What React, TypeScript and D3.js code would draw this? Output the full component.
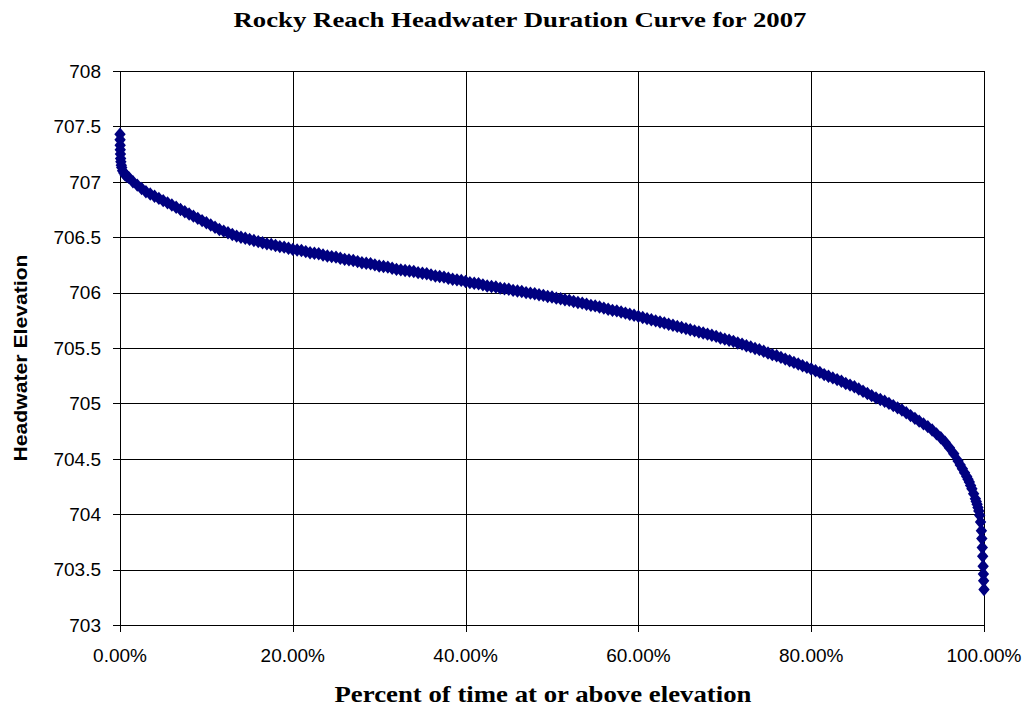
import React from "react";
import * as d3 from "d3";

const titleText = "Rocky Reach Headwater Duration Curve for 2007";
const xTitle = "Percent of time at or above elevation";
const yTitle = "Headwater Elevation";

const xTicks = [0, 20, 40, 60, 80, 100];
const yTicks = [703, 703.5, 704, 704.5, 705, 705.5, 706, 706.5, 707, 707.5, 708];

// Percent of time (0-100) at or above elevation
const percent = [
  0, 0.01, 0.02, 0.03, 0.05, 0.07, 0.1, 0.15, 0.2, 0.3, 0.45, 0.6, 0.8,
  1, 1.5, 2, 2.5, 3, 3.5, 4, 4.5, 5, 5.5, 6, 6.5, 7, 7.5, 8, 8.5, 9, 9.5,
  10, 10.5, 11, 11.5, 12, 12.5, 13, 13.5, 14, 14.5, 15, 15.5, 16, 16.5, 17, 17.5, 18, 18.5, 19, 19.5,
  20, 20.5, 21, 21.5, 22, 22.5, 23, 23.5, 24, 24.5, 25, 25.5, 26, 26.5, 27, 27.5, 28, 28.5, 29, 29.5,
  30, 30.5, 31, 31.5, 32, 32.5, 33, 33.5, 34, 34.5, 35, 35.5, 36, 36.5, 37, 37.5, 38, 38.5, 39, 39.5,
  40, 40.5, 41, 41.5, 42, 42.5, 43, 43.5, 44, 44.5, 45, 45.5, 46, 46.5, 47, 47.5, 48, 48.5, 49, 49.5,
  50, 50.5, 51, 51.5, 52, 52.5, 53, 53.5, 54, 54.5, 55, 55.5, 56, 56.5, 57, 57.5, 58, 58.5, 59, 59.5,
  60, 60.5, 61, 61.5, 62, 62.5, 63, 63.5, 64, 64.5, 65, 65.5, 66, 66.5, 67, 67.5, 68, 68.5, 69, 69.5,
  70, 70.5, 71, 71.5, 72, 72.5, 73, 73.5, 74, 74.5, 75, 75.5, 76, 76.5, 77, 77.5, 78, 78.5, 79, 79.5,
  80, 80.5, 81, 81.5, 82, 82.5, 83, 83.5, 84, 84.5, 85, 85.5, 86, 86.5, 87, 87.5, 88, 88.5, 89, 89.5,
  90, 90.5, 91, 91.5, 92, 92.5, 93, 93.5, 94, 94.5, 95, 95.5, 96, 96.5, 97, 97.25, 97.5, 97.75, 98, 98.15, 98.3, 98.45, 98.6, 98.8,
  99, 99.1, 99.2, 99.3, 99.4, 99.5, 99.6, 99.7, 99.75, 99.8, 99.85, 99.9, 99.93, 99.96, 100,
];
const elevation = [
  707.43, 707.38, 707.33, 707.29, 707.25, 707.21, 707.18, 707.15, 707.13, 707.1, 707.08, 707.06, 707.05,
  707.04, 707.0, 706.97, 706.94, 706.91, 706.89, 706.87, 706.85, 706.83, 706.81, 706.79, 706.77, 706.75, 706.73, 706.71, 706.69, 706.67, 706.65,
  706.63, 706.61, 706.59, 706.57, 706.555, 706.54, 706.525, 706.51, 706.5, 706.49, 706.48, 706.47, 706.46, 706.45, 706.44, 706.435, 706.425, 706.415, 706.41, 706.4,
  706.39, 706.385, 706.38, 706.37, 706.36, 706.355, 706.35, 706.34, 706.33, 706.325, 706.32, 706.31, 706.3, 706.295, 706.29, 706.28, 706.27, 706.265, 706.26, 706.25,
  706.24, 706.235, 706.23, 706.22, 706.21, 706.205, 706.2, 706.195, 706.19, 706.18, 706.175, 706.17, 706.16, 706.15, 706.145, 706.14, 706.13, 706.12, 706.115, 706.11,
  706.1, 706.09, 706.085, 706.08, 706.07, 706.06, 706.055, 706.05, 706.04, 706.035, 706.03, 706.02, 706.015, 706.01, 706.0, 705.995, 705.99, 705.98, 705.975, 705.965,
  705.96, 705.95, 705.945, 705.935, 705.93, 705.92, 705.91, 705.905, 705.895, 705.885, 705.88, 705.87, 705.86, 705.85, 705.84, 705.835, 705.825, 705.815, 705.805, 705.795,
  705.785, 705.775, 705.765, 705.755, 705.745, 705.735, 705.725, 705.715, 705.705, 705.695, 705.685, 705.675, 705.665, 705.655, 705.645, 705.635, 705.625, 705.615, 705.605, 705.59,
  705.58, 705.57, 705.56, 705.545, 705.535, 705.52, 705.51, 705.495, 705.485, 705.47, 705.455, 705.44, 705.43, 705.415, 705.4, 705.385, 705.37, 705.355, 705.34, 705.325,
  705.31, 705.295, 705.28, 705.26, 705.245, 705.23, 705.215, 705.2, 705.18, 705.165, 705.15, 705.13, 705.11, 705.09, 705.07, 705.05, 705.035, 705.02, 705.0, 704.98,
  704.96, 704.94, 704.915, 704.89, 704.865, 704.84, 704.815, 704.79, 704.76, 704.725, 704.69, 704.65, 704.6, 704.545, 704.48, 704.445, 704.41, 704.375, 704.34, 704.315, 704.29, 704.26, 704.23, 704.185,
  704.14, 704.115, 704.09, 704.06, 704.03, 703.99, 703.93, 703.85, 703.78, 703.7, 703.62, 703.53, 703.46, 703.4, 703.32,
];

const W = 1031;
const H = 709;
const left = 120;
const right = 984;
const top = 71;
const bottom = 625;

export default function App() {
  const x = d3.scaleLinear().domain([0, 100]).range([left, right]);
  const y = d3.scaleLinear().domain([703, 708]).range([bottom, top]);
  const fmtX = (v: number) => `${v.toFixed(2)}%`;
  const fmtY = (v: number) => d3.format("")(v);
  const sw = 5.7;
  const sh = 6.7;
  const diamond = `M0,${-sh}L${sw},0L0,${sh}L${-sw},0Z`;
  const pts = percent.map((p, i) => [p, elevation[i]] as [number, number]);
  const px = (v: number) => Math.round(v) + 0.5;

  return (
    <svg
      width={W}
      height={H}
      style={{ position: "absolute", left: 0, top: 0, background: "#fff" }}
      fontFamily="'Liberation Sans', Arial, sans-serif"
    >
      <rect x={0} y={0} width={W} height={H} fill="#fff" />
      {yTicks.map((t) => (
        <line key={"gy" + t} x1={left} x2={right} y1={px(y(t))} y2={px(y(t))} stroke="#000" strokeWidth={1} />
      ))}
      {xTicks.map((t) => (
        <line key={"gx" + t} x1={px(x(t))} x2={px(x(t))} y1={top} y2={bottom} stroke="#000" strokeWidth={1} />
      ))}
      {yTicks.map((t) => (
        <line key={"ty" + t} x1={left - 7} x2={left} y1={px(y(t))} y2={px(y(t))} stroke="#000" />
      ))}
      {xTicks.map((t) => (
        <line key={"tx" + t} x1={px(x(t))} x2={px(x(t))} y1={bottom} y2={bottom + 7} stroke="#000" />
      ))}
      {yTicks.map((t) => (
        <text key={"ly" + t} x={101} y={y(t)} dy="0.36em" textAnchor="end" fontSize={19} fill="#000">
          {fmtY(t)}
        </text>
      ))}
      {xTicks.map((t) => (
        <text key={"lx" + t} x={x(t)} y={662} textAnchor="middle" fontSize={19} fill="#000">
          {fmtX(t)}
        </text>
      ))}
      {pts.map((d, i) => (
        <path key={"p" + i} d={diamond} transform={`translate(${x(d[0])},${y(d[1])})`} fill="#000080" />
      ))}
      <text x={520} y={27} textAnchor="middle" fontFamily="'Liberation Serif', 'Times New Roman', serif" fontWeight="bold" fontSize={22} textLength={573} lengthAdjust="spacingAndGlyphs">
        {titleText}
      </text>
      <text x={543} y={702} textAnchor="middle" fontFamily="'Liberation Serif', 'Times New Roman', serif" fontWeight="bold" fontSize={23} textLength={417} lengthAdjust="spacingAndGlyphs">
        {xTitle}
      </text>
      <text
        transform={`translate(27,358) rotate(-90)`}
        textAnchor="middle"
        fontWeight="bold"
        fontSize={19}
        textLength={207}
        lengthAdjust="spacingAndGlyphs"
      >
        {yTitle}
      </text>
    </svg>
  );
}
